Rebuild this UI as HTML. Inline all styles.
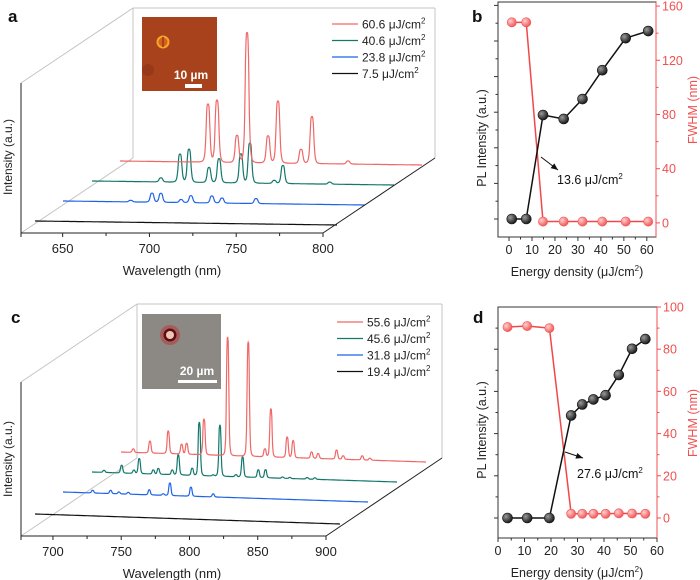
<!DOCTYPE html>
<html><head><meta charset="utf-8"><style>
html,body{margin:0;padding:0;background:#fff;}
svg{display:block;font-family:"Liberation Sans",Arial,sans-serif;}
</style></head><body>
<svg id="fig" width="700" height="580" viewBox="0 0 700 580" xmlns="http://www.w3.org/2000/svg"></svg>
<script>
// ===== Data panel a =====
const aLabels=["7.5 μJ/cm","23.8 μJ/cm","40.6 μJ/cm","60.6 μJ/cm"];
const aColors=["#111111","#1f63e6","#13786c","#f06767"];
const aPeakWl0=[];const aPeakH0=[];
const aPeakWl1=[677.3,682.4,694,699.7,711.8,717.6,737.2,665];
const aPeakH1=[9,9,3,7,7,5,5,1.5];
const aPeakWl2=[665.7,676.7,681.9,693.4,699.2,711.8,717,731,736,763];
const aPeakH2=[4,28,33,15,24,29,40,3,18,2];
const aPeakWl3=[676.7,681.9,693.4,699.2,711.3,717,730.3,736.6,757.4];
const aPeakH3=[58,62,27,130,27,62,14,47,3];
const aTicks=[650,700,750,800];
// ===== Data panel c =====
const cLabels=["19.4 μJ/cm","31.8 μJ/cm","45.6 μJ/cm","55.6 μJ/cm"];
const cPeakWl0=[];const cPeakH0=[];
const cPeakWl1=[698.3,711.5,717.6,724.4,739.8,750,754.9,770.3,786.6];
const cPeakH1=[2.6,3.2,1.8,1.7,5,1.5,12.4,9,3];
const cPeakWl2=[685.4,698.3,707.3,711.2,721.5,725.2,735.4,739.8,750,755.2,765.4,770.3,782,786.9,798.4,803.7,816.2,821.5,834.2,839.9];
const cPeakH2=[2,7.7,3.2,15,4,5.7,4.6,20,7,53,1,51,2,20,7.6,8,1.2,1,1.5,1.5];
const cPeakWl3=[685.6,697.8,711.2,721,724.7,737.4,754.7,769.8,782,786.4,798.3,802.7,816.2,821,834.5,839.3,853.3,858.9];
const cPeakH3=[3.5,11.8,22.5,9.7,10.8,35.5,118,114,7.8,48,20.4,17,6.3,5,9,3.5,4,2];
const cTicks=[700,750,800,850,900];
// ===== Data panel b =====
const bX=[1.2,7.5,14.8,23.8,32,40.6,50.8,60.6];
const bPL=[0,0,2.92,2.81,3.37,4.18,5.08,5.28];
const bFW=[148,148,1,1,1,1,1,1];
const bXTicks=[0,10,20,30,40,50,60];
const bYTicks=[0,40,80,120,160];
// ===== Data panel d =====
const dX=[3.6,11,19.4,27.6,31.8,36,40.6,45.6,50.6,55.6];
const dPL=[0,0,0,2.43,2.69,2.81,2.91,3.39,4.01,4.24];
const dFW=[90.5,91,90,2,2,2,2,2.2,2.1,2];
const dXTicks=[0,10,20,30,40,50,60];
const dYTicks=[0,20,40,60,80,100];

const NS="http://www.w3.org/2000/svg";
const svg=document.getElementById('fig');
function el(tag,attrs,parent,text){const e=document.createElementNS(NS,tag);for(const k in attrs)e.setAttribute(k,attrs[k]);if(text!==undefined)e.textContent=text;(parent||svg).appendChild(e);return e;}
function line(x1,y1,x2,y2,stroke,w,p){return el('line',{x1,y1,x2,y2,stroke,'stroke-width':w||1},p);}

function panel3D(id,o,peaksWl,peaksH,labels,ticks){
  const g=el('g',{},svg);
  
  
  const xs=wl=>o.x0+(wl-o.wmin)/(o.wmax-o.wmin)*(o.x1-o.x0);
  const gray="#c4c4c4";
  line(o.x0+o.bdx,o.yt+o.bdy,o.x1+o.bdx,o.yt+o.bdy,gray,1,g);
  line(o.x0+o.bdx,o.yt+o.bdy,o.x0+o.bdx,o.yb+o.bdy,gray,1,g);
  line(o.x1+o.bdx,o.yt+o.bdy,o.x1+o.bdx,o.yb+o.bdy,gray,1,g);
  line(o.x0,o.yt,o.x0+o.bdx,o.yt+o.bdy,gray,1,g);
  line(o.x0,o.yb,o.x0+o.bdx,o.yb+o.bdy,gray,1,g);
  for(let k=0;k<4;k++){
    const dx=o.dx[k],dy=o.dy[k];
    let d="";
    const N=700;
    for(let i=0;i<=N;i++){
      const wl=o.wmin+(o.wmax-o.wmin)*i/N;
      let h=0;
      for(let j=0;j<peaksWl[k].length;j++){const u=(wl-peaksWl[k][j])/o.pw;h+=peaksH[k][j]/(1+u*u*u*u);}
      const x=xs(wl)+dx;
      const y=o.yb+dy+o.slope*i/N-h;
      d+=(i?"L":"M")+x.toFixed(1)+","+y.toFixed(1);
    }
    const p=el('path',{d,fill:'none',stroke:o.colors[k],'stroke-width':1.2},g);
    
    
  }
  line(o.x0,o.yt,o.x0,o.yb,"#222",1,g);
  line(o.x0,o.yb,o.x1,o.yb,"#222",1,g);
  line(o.x1,o.yb,o.x1+o.bdx,o.yb+o.bdy,"#222",1,g);
  line(o.x0,o.yb,o.x0,o.yb+4,"#222",1,g);
  for(let i=0;i<ticks.length;i++){
    const x=xs(ticks[i]);
    line(x,o.yb,x,o.yb+4,"#222",1,g);
    const mx=xs(ticks[i]-25);
    if(mx>o.x0)line(mx,o.yb,mx,o.yb+3,"#222",1,g);
    const t=el('text',{x:x,y:o.yb+20,'text-anchor':'middle','font-size':13,fill:'#222'},g,ticks[i]);
    
    
  }
  const xt=el('text',{x:172,y:o.yb+42,'text-anchor':'middle','font-size':13,fill:'#222'},g,'Wavelength (nm)');
  
  
  const yt=el('text',{x:0,y:0,transform:`translate(12,${o.ytc}) rotate(-90)`,'text-anchor':'middle','font-size':12,fill:'#222'},g,'Intensity (a.u.)');
  
  
  for(let k=0;k<4;k++){
    const row=3-k;const y=o.legY+row*16.5;
    const lg=el('g',{},g);
    
    
    line(o.legX,y,o.legX+26,y,o.colors[k],1.3,lg);
    const t=el('text',{x:o.legX+30,y:y+4.5,'font-size':12,fill:'#222'},lg,labels[k]);
    el('tspan',{dy:-5,'font-size':8},t,'2');
  }
  return g;
}

panel3D('a',{x0:21,x1:323,wmin:626,wmax:800,yt:83,yb:233,bdx:112,bdy:-75,
  dx:[14,42,71,99],dy:[-12,-32,-52,-72],slope:4,pw:1.2,ytc:157,
  colors:aColors,legX:332,legY:24},
  [aPeakWl0,aPeakWl1,aPeakWl2,aPeakWl3],[aPeakH0,aPeakH1,aPeakH2,aPeakH3],aLabels,aTicks);
panel3D('c',{x0:21,x1:326,wmin:676.6,wmax:900,yt:382,yb:536,bdx:116,bdy:-78,
  dx:[14,42,71,100],dy:[-22,-44,-64,-84],slope:10,pw:0.95,ytc:459,
  colors:aColors,legX:337,legY:322},
  [cPeakWl0,cPeakWl1,cPeakWl2,cPeakWl3],[cPeakH0,cPeakH1,cPeakH2,cPeakH3],cLabels,cTicks);

(function(){
  const g=el('g',{});
  
  
  el('rect',{x:142,y:17,width:75,height:74,fill:'#a8421c'},g);
  el('circle',{cx:148,cy:70,r:6,fill:'#8e3518',opacity:0.7},g);
  el('circle',{cx:163,cy:42,r:5.5,fill:'#d8601c',stroke:'#f6a528','stroke-width':2},g);
  el('rect',{x:162,y:37,width:2,height:10,fill:'#a8421c'},g);
  el('text',{x:191,y:79,'text-anchor':'middle','font-size':12,'font-weight':'bold',fill:'#fff'},g,'10 µm');
  el('rect',{x:185,y:84,width:17,height:4,fill:'#fff'},g);
  const g2=el('g',{});
  
  
  el('rect',{x:142,y:314,width:79,height:75,fill:'#8c8884'},g2);
  el('circle',{cx:170,cy:335,r:10,fill:'#c03030',opacity:0.5},g2);
  el('circle',{cx:170,cy:335,r:6.5,fill:'#5a1010'},g2);
  el('circle',{cx:170,cy:335,r:4,fill:'#f2c4b8'},g2);
  el('text',{x:197,y:375,'text-anchor':'middle','font-size':12,'font-weight':'bold',fill:'#fff'},g2,'20 µm');
  el('rect',{x:178,y:380,width:39,height:3,fill:'#fff'},g2);
})();

function panel2D(id,o,X,PL,FW,xticks,yticks){
  const g=el('g',{});
  
  
  const xs=v=>o.px0+(v-o.xmin)/(o.xmax-o.xmin)*(o.px1-o.px0);
  const ysR=v=>o.py1-(v-o.rmin)/(o.rmax-o.rmin)*(o.py1-o.py0);
  const ysL=v=>o.plZero-v*o.plStep;
  el('rect',{x:o.px0,y:o.py0,width:o.px1-o.px0,height:o.py1-o.py0,fill:'none',stroke:'#333','stroke-width':1},g);
  line(o.px1,o.py0,o.px1,o.py1,'#f05050',1,g);
  for(const t of xticks){const x=xs(t);line(x,o.py1,x,o.py1+4,'#333',1,g);
    const mx=xs(t+5);if(mx<o.px1)line(mx,o.py1,mx,o.py1+2.5,'#333',1,g);
    const tl=el('text',{x,y:o.py1+17,'text-anchor':'middle','font-size':12.5,fill:'#222'},g,t);
    }
  for(let v=0;ysL(v)>o.py0;v+=0.5){const y=ysL(v);line(o.px0-(v%1===0?4:2.5),y,o.px0,y,'#333',1,g);}
  const step=yticks[1]-yticks[0];
  for(const t of yticks){const y=ysR(t);line(o.px1,y,o.px1+4,y,'#f05050',1,g);
    const my=ysR(t+step/2);if(my>o.py0)line(o.px1,my,o.px1+2.5,my,'#f05050',1,g);
    const my2=ysR(t-step/2);if(t===0&&my2<o.py1)line(o.px1,my2,o.px1+2.5,my2,'#f05050',1,g);
    const tl=el('text',{x:o.px1+6,y:y+4.5,'font-size':12.5,fill:'#f05050'},g,t);
    }
  const lpR=el('polyline',{points:X.map((x,i)=>xs(x)+','+ysR(FW[i])).join(' '),fill:'none',stroke:'#f04848','stroke-width':1.5},g);
  
  const lpK=el('polyline',{points:X.map((x,i)=>xs(x)+','+ysL(PL[i])).join(' '),fill:'none',stroke:'#111','stroke-width':1.5},g);
  
  X.forEach((x,i)=>{const c=el('circle',{cx:xs(x),cy:ysR(FW[i]),r:4.6,fill:'url(#gr)',stroke:'#f25a5a','stroke-width':0.6},g);
    });
  X.forEach((x,i)=>{const c=el('circle',{cx:xs(x),cy:ysL(PL[i]),r:5,fill:'url(#gk)',stroke:'#111','stroke-width':0.6},g);
    });
  line(o.ax1,o.ay1,o.ax2,o.ay2,'#111',1,g);
  const ang=Math.atan2(o.ay2-o.ay1,o.ax2-o.ax1);
  const hx=o.ax2,hy=o.ay2;
  el('polygon',{points:`${hx},${hy} ${hx-7*Math.cos(ang)+3*Math.sin(ang)},${hy-7*Math.sin(ang)-3*Math.cos(ang)} ${hx-7*Math.cos(ang)-3*Math.sin(ang)},${hy-7*Math.sin(ang)+3*Math.cos(ang)}`,fill:'#111'},g);
  const at=el('text',{x:o.tx,y:o.ty,'font-size':12.5,fill:'#111'},g,o.ann);
  el('tspan',{dy:-5,'font-size':8},at,'2');
  
  const xt=el('text',{x:577,y:o.xty,'text-anchor':'middle','font-size':12.5,fill:'#222'},g,'Energy density (μJ/cm');
  el('tspan',{dy:-5,'font-size':8},xt,'2');el('tspan',{dy:5},xt,')');
  
  const lt=el('text',{transform:`translate(486,${o.ltc}) rotate(-90)`,'text-anchor':'middle','font-size':12.5,fill:'#222'},g,'PL Intensity (a.u.)');
  
  const rt=el('text',{transform:`translate(697,${o.rtc}) rotate(-90)`,'text-anchor':'middle','font-size':12.5,fill:'#f05050'},g,'FWHM (nm)');
  
}
const defs=el('defs',{});
const gk=el('radialGradient',{id:'gk',cx:'35%',cy:'35%',r:'65%'},defs);
el('stop',{offset:'0','stop-color':'#9a9a9a'},gk);el('stop',{offset:'1','stop-color':'#1a1a1a'},gk);
const gr=el('radialGradient',{id:'gr',cx:'35%',cy:'35%',r:'65%'},defs);
el('stop',{offset:'0','stop-color':'#ffd0d0'},gr);el('stop',{offset:'1','stop-color':'#f05a5a'},gr);

panel2D('b',{px0:498,px1:656,py0:2,py1:237,xmin:-4.8,xmax:64,rmin:-10.4,rmax:163,
  plZero:219,plStep:35.6,ax1:541,ay1:157,ax2:558,ay2:170,tx:557,ty:184,ann:'13.6 μJ/cm',
  xty:276,ltc:138,rtc:110},bX,bPL,bFW,bXTicks,bYTicks);
panel2D('d',{px0:498,px1:657,py0:307,py1:538,xmin:0,xmax:60,rmin:-9.5,rmax:100,
  plZero:518,plStep:42.2,ax1:565,ay1:452,ax2:583,ay2:458,tx:577,ty:478,ann:'27.6 μJ/cm',
  xty:577,ltc:430,rtc:423},dX,dPL,dFW,dXTicks,dYTicks);

[['a',8,22],['b',472,22],['c',11,323],['d',473,323]].forEach(p=>{
  const t=el('text',{x:p[1],y:p[2],'font-size':17,'font-weight':'bold',fill:'#111'},svg,p[0]);
  
  
});
</script>
</body></html>
